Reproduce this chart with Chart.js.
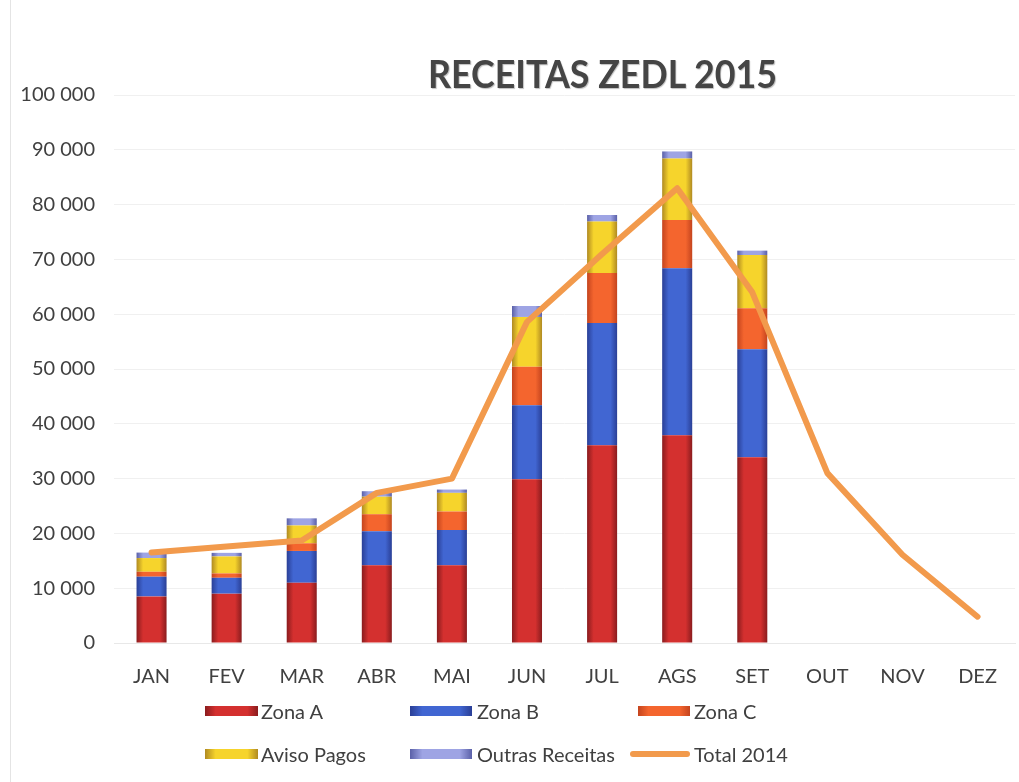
<!DOCTYPE html>
<html>
<head>
<meta charset="utf-8">
<script src="https://cdn.jsdelivr.net/npm/chart.js@4/dist/chart.umd.min.js"></script>
<style>
  html, body { margin: 0; padding: 0; background: #ffffff; }
  #wrap { position: relative; width: 1019px; height: 782px; overflow: hidden; font-family: Lato, "Open Sans", sans-serif; }
  #c { position: absolute; left: 0; top: 0; }
  #edge { position: absolute; left: 10px; top: 0; width: 1px; height: 782px; background: #e4e4e4; }
  #title { position: absolute; left: 428px; top: 50px; font-family: Lato, sans-serif; font-weight: 700; font-size: 39px; color: #454545; white-space: nowrap; transform-origin: 0 0; text-shadow: 1px 1px 1px rgba(0,0,0,0.25); }
  .lg { position: absolute; display: flex; align-items: center; font-size: 20px; color: #404040; white-space: nowrap; }
  .sw { display: inline-block; height: 10px; margin-right: 4px; }
</style>
</head>
<body>
<div id="wrap">
  <canvas id="c" width="1019" height="782"></canvas>
  <div id="edge"></div>
  <div id="title">RECEITAS ZEDL 2015</div>
  <div id="legend"></div>
</div>
<script>
// ---- data ----
const categories = ["JAN","FEV","MAR","ABR","MAI","JUN","JUL","AGS","SET","OUT","NOV","DEZ"];
const zonaA        = [8500, 9000, 11000, 14200, 14200, 29900, 36100, 37900, 33900, null, null, null];
const zonaB        = [3600, 2900, 5800, 6200, 6400, 13500, 22300, 30500, 19700, null, null, null];
const zonaC        = [900, 800, 1400, 3100, 3400, 7000, 9100, 8800, 7500, null, null, null];
const avisoPagos   = [2500, 3100, 3250, 3200, 3400, 9100, 9400, 11200, 9700, null, null, null];
const outrasRec    = [1000, 650, 1300, 1000, 600, 2000, 1200, 1300, 800, null, null, null];
const total2014    = [16500, 17600, 18700, 27400, 30000, 58600, 71000, 83000, 64000, 31000, 16100, 4800];
const yTicks       = [0, 10000, 20000, 30000, 40000, 50000, 60000, 70000, 80000, 90000, 100000];

const seriesNames = ["Zona A","Zona B","Zona C","Aviso Pagos","Outras Receitas","Total 2014"];
const palette = {
  "Zona A":          ["#8a1c1e", "#d4302f"],
  "Zona B":          ["#2a3f96", "#4166d2"],
  "Zona C":          ["#c4441e", "#f4652e"],
  "Aviso Pagos":     ["#b08a22", "#f6d42c"],
  "Outras Receitas": ["#5a60a8", "#9ea4e4"],
  "Total 2014":      ["#f29a4c", "#f29a4c"]
};

function fmt(v){ return String(v).replace(/\B(?=(\d{3})+(?!\d))/g, " "); }

function barFill(name){
  const [dark, light] = palette[name];
  return function(ctx){
    const c = ctx.chart;
    if (!c.chartArea || !c.scales.x) return light;
    const xs = c.scales.x;
    const x = xs.getPixelForValue(ctx.dataIndex);
    const half = (xs.width / categories.length) * 0.4 / 2;
    const g = c.ctx.createLinearGradient(x - half, 0, x + half, 0);
    g.addColorStop(0, dark);
    g.addColorStop(0.22, light);
    g.addColorStop(0.78, light);
    g.addColorStop(1, dark);
    return g;
  };
}

const barSeries = [zonaA, zonaB, zonaC, avisoPagos, outrasRec];
const datasets = barSeries.map((arr, i) => ({
  type: "bar",
  label: seriesNames[i],
  data: arr,
  stack: "zones",
  order: 1,
  backgroundColor: barFill(seriesNames[i]),
  borderWidth: 0,
  categoryPercentage: 1.0,
  barPercentage: 0.4
}));
datasets.push({
  type: "line",
  label: seriesNames[5],
  data: total2014,
  stack: "total",
  order: 0,
  borderColor: palette["Total 2014"][1],
  backgroundColor: palette["Total 2014"][1],
  borderWidth: 6,
  pointRadius: 0,
  tension: 0,
  borderJoinStyle: "round",
  borderCapStyle: "round",
  fill: false
});

const chart = new Chart(document.getElementById("c"), {
  data: { labels: categories, datasets: datasets },
  options: {
    responsive: false,
    animation: false,
    layout: { padding: { left: 0, right: 1, top: 95, bottom: 79 } },
    plugins: { legend: { display: false }, tooltip: { enabled: false }, title: { display: false } },
    scales: {
      x: {
        stacked: true,
        grid: { display: false, drawTicks: false },
        border: { display: true, color: "#e8e8e8" },
        ticks: { color: "#404040", font: { family: "Lato", size: 20 }, padding: 22 },
        afterFit: s => { s.height = 60; }
      },
      y: {
        stacked: true,
        min: 0, max: 100000,
        afterBuildTicks: s => { s.ticks = yTicks.map(v => ({ value: v })); },
        grid: { color: "#f0f0f0", drawTicks: false },
        border: { display: false },
        ticks: { color: "#404040", font: { family: "Lato", size: 20 }, padding: 19, callback: v => fmt(v) },
        afterFit: s => { s.width = 114; }
      }
    }
  }
});

// ---- legend (HTML, built from the chart's datasets) ----
const legendPos = [
  { box: [205, 53], text: 261, y: 711 },
  { box: [410, 62], text: 477, y: 711 },
  { box: [638, 52], text: 694, y: 711 },
  { box: [205, 53], text: 261, y: 754 },
  { box: [410, 62], text: 477, y: 754 },
  { box: [630, 60], text: 694, y: 754 }
];
const lg = document.getElementById("legend");
chart.data.datasets.forEach((ds, i) => {
  const p = legendPos[i];
  const [dark, light] = palette[ds.label];
  const sw = document.createElement("div");
  sw.className = "lg";
  sw.style.left = p.box[0] + "px";
  sw.style.top = (p.y - 14) + "px";
  sw.style.height = "28px";
  const s = document.createElement("span");
  s.className = "sw";
  s.style.width = p.box[1] + "px";
  if (ds.type === "line") {
    s.style.height = "6px";
    s.style.borderRadius = "3px";
    s.style.background = light;
  } else {
    s.style.background = `linear-gradient(to right, ${dark} 0%, ${light} 20%, ${light} 80%, ${dark} 100%)`;
  }
  sw.appendChild(s);
  lg.appendChild(sw);
  const t = document.createElement("div");
  t.className = "lg";
  t.style.left = p.text + "px";
  t.style.top = (p.y - 14) + "px";
  t.style.height = "28px";
  t.textContent = ds.label;
  lg.appendChild(t);
});

// fit title width to the reference (~349px)
const title = document.getElementById("title");
const w = title.getBoundingClientRect().width;
title.style.transform = `scaleX(${349 / w})`;
</script>
</body>
</html>
